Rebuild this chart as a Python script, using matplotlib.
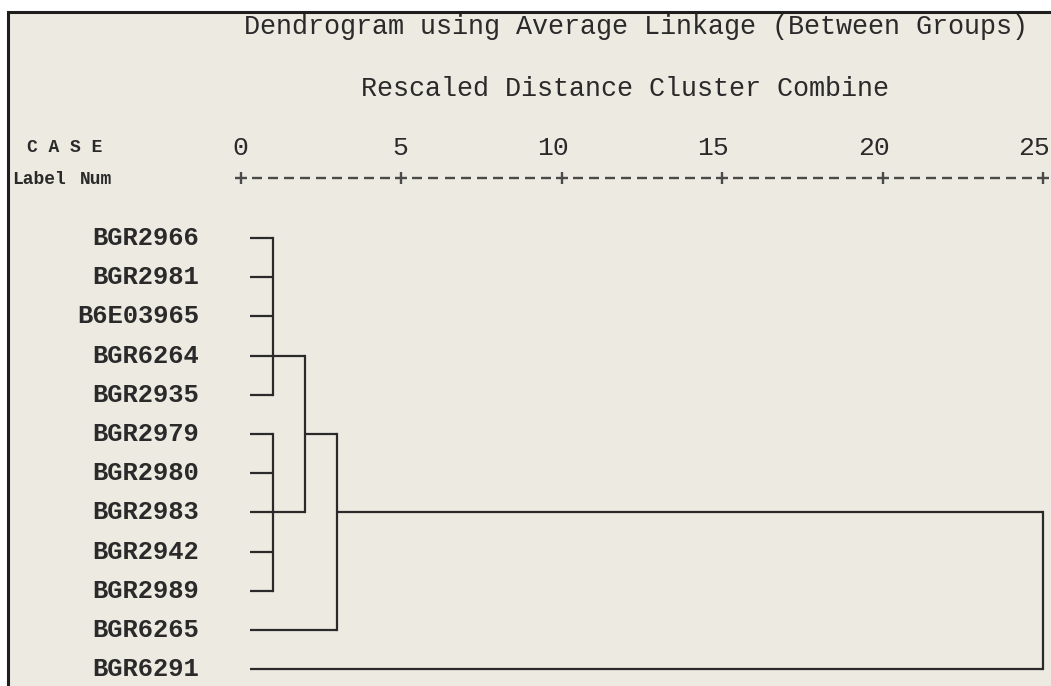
import matplotlib
matplotlib.use("Agg")
import matplotlib.pyplot as plt
import numpy as np
from matplotlib.transforms import Affine2D, blended_transform_factory, offset_copy
from matplotlib.patches import Rectangle

# ---------------- data ----------------
title = "Dendrogram using Average Linkage (Between Groups)"
subtitle = "Rescaled Distance Cluster Combine"
case_header = "C A S E"
label_header = "Label"
num_header = "Num"

leaf_labels = ["BGR2966", "BGR2981", "B6E03965", "BGR6264", "BGR2935",
               "BGR2979", "BGR2980", "BGR2983", "BGR2942", "BGR2989",
               "BGR6265", "BGR6291"]

# merges: children (leaf index or merge name), rescaled distance, row of outgoing branch
merge_names = ["A", "B", "C", "D", "E"]
merge_children = [[0, 1, 2, 3, 4], [5, 6, 7, 8, 9], ["A", "B"], ["C", 10], ["D", 11]]
merge_dist = [1, 1, 2, 3, 25]
merge_row = [3, 7, 5, 7, 9]

tick_values = [0, 5, 10, 15, 20, 25]
tick_labels = ["0", "5", "10", "15", "20", "25"]
leaf_start = 0.28

# ---------------- figure ----------------
W, H, DPI = 1051, 686, 100
BG = "#ECEAE1"
INK = "#2a2a2a"
MONO = ["Liberation Mono", "DejaVu Sans Mono"]

fig = plt.figure(figsize=(W / DPI, H / DPI), dpi=DPI, facecolor="white")
px = Affine2D().scale(1.0 / W, -1.0 / H).translate(0, 1) + fig.transFigure

fig.add_artist(Rectangle((8, 12), W + 20, H + 20, transform=px, facecolor=BG,
                         edgecolor="#1e1e1e", linewidth=2.2, zorder=0))

ax = fig.add_axes([0, 0, 1, 1])
ax.set_facecolor("none")
x0_px, unit_px = 241.0, 32.08
row0_px, row_px = 238.0, 39.2
ax.set_xlim(-x0_px / unit_px, (W - x0_px) / unit_px)
ax.set_ylim((H - row0_px) / row_px, -row0_px / row_px)
ax.axis("off")

# ---------------- dendrogram ----------------
idx = {n: i for i, n in enumerate(merge_names)}


def child_info(c):
    if isinstance(c, str):
        i = idx[c]
        return merge_row[i], merge_dist[i]
    return c, leaf_start


lw = 1.6
for name, children, d in zip(merge_names, merge_children, merge_dist):
    rows = []
    for c in children:
        r, start = child_info(c)
        rows.append(r)
        ax.plot([start, d], [r, r], color=INK, lw=lw, solid_capstyle="butt")
    ax.plot([d, d], [min(rows), max(rows)], color=INK, lw=lw, solid_capstyle="projecting")

# leaf labels
lab_tf = blended_transform_factory(px, ax.transData)
for i, lab in enumerate(leaf_labels):
    ax.text(199, i, lab, transform=lab_tf, ha="right", va="center",
            family=MONO, fontweight="bold", fontsize=18.4, color=INK)

# ---------------- header ----------------
ax.text(244, 27, title, transform=px, ha="left", va="center",
        family=MONO, fontsize=19.3, color=INK)
ax.text(361, 89, subtitle, transform=px, ha="left", va="center",
        family=MONO, fontsize=19.3, color=INK)
ax.text(27, 148, case_header, transform=px, ha="left", va="center",
        family=MONO, fontweight="bold", fontsize=13, color=INK)
ax.text(12, 179, label_header, transform=px, ha="left", va="center",
        family=MONO, fontweight="bold", fontsize=13, color=INK)
ax.text(80, 179, num_header, transform=px, ha="left", va="center",
        family=MONO, fontweight="bold", fontsize=13, color=INK)

# scale labels and "+---------+" ruler
tick_tf = blended_transform_factory(ax.transData, px)
tick_lab_tf = offset_copy(tick_tf, fig=fig, x=7, y=0, units="dots")
for v, t in zip(tick_values, tick_labels):
    ax.text(v, 148, t, transform=tick_lab_tf, ha="right", va="center",
            family=MONO, fontsize=19, color=INK)

dash_x = [v for v in np.arange(0, tick_values[-1] + 0.01, 0.5) if v % 5 != 0]
ax.plot(dash_x, [178] * len(dash_x), transform=tick_tf, ls="none", marker="_",
        markersize=7, mew=1.7, color="#4a4a4a")
ax.plot(tick_values, [178] * len(tick_values), transform=tick_tf, ls="none",
        marker="+", markersize=8, mew=1.7, color="#4a4a4a")

fig.savefig("out.png", dpi=DPI, facecolor="white")
